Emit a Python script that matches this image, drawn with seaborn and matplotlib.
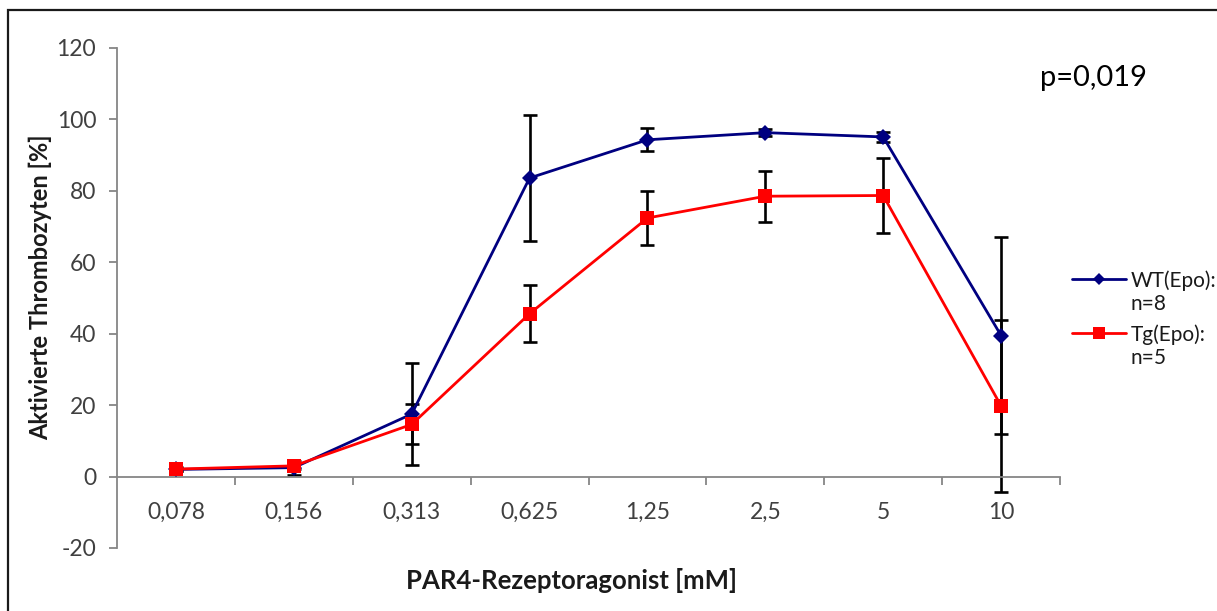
import matplotlib
matplotlib.use("Agg")
import matplotlib.pyplot as plt
from matplotlib.lines import Line2D
from matplotlib.patches import Rectangle
from matplotlib.ticker import FixedLocator, NullFormatter
import numpy as np
import pandas as pd
import seaborn as sns

# Agonist concentrations (mM) shown as categories
concentrations = ["0,078", "0,156", "0,313", "0,625", "1,25", "2,5", "5", "10"]

# Activated platelets [%], mean and error per concentration
wt_mean = [2.0, 2.5, 17.5, 83.6, 94.3, 96.3, 95.1, 39.5]
wt_err = [0.5, 2.0, 14.3, 17.7, 3.2, 1.0, 1.5, 27.7]
tg_mean = [2.1, 3.0, 14.6, 45.6, 72.4, 78.5, 78.7, 19.8]
tg_err = [0.5, 0.8, 5.6, 8.0, 7.6, 7.2, 10.5, 24.0]

groups = ["WT(Epo)", "Tg(Epo)"]
legend_titles = ["WT(Epo):", "Tg(Epo):"]
legend_counts = ["n=8", "n=5"]
p_text = "p=0,019"

sns.set_theme(style="white")
plt.rcParams["font.family"] = ["Lato", "DejaVu Sans"]
plt.rcParams["axes.unicode_minus"] = False

W, H = 1217, 611
pos = np.arange(len(concentrations))
df = pd.DataFrame({
    "pos": np.concatenate([pos, pos]),
    "value": wt_mean + tg_mean,
    "group": [groups[0]] * len(pos) + [groups[1]] * len(pos),
})

fig = plt.figure(figsize=(W / 100, H / 100), dpi=100)
ax = fig.add_axes([117 / W, 1 - 548 / H, (1060 - 117) / W, 500 / H])

navy = "#000080"
red = "#ff0000"
text_col = "#1a1a1a"

# Error bars underneath the lines
for mean, err in [(wt_mean, wt_err), (tg_mean, tg_err)]:
    ax.errorbar(pos, mean, yerr=err, fmt="none", ecolor="black",
                elinewidth=1.9, capsize=4.5, capthick=1.9, zorder=2)

sns.lineplot(data=df, x="pos", y="value", hue="group", style="group",
             palette={groups[0]: navy, groups[1]: red},
             markers={groups[0]: "D", groups[1]: "s"}, dashes=False,
             markeredgewidth=0, linewidth=2.0, ax=ax, zorder=3, legend=False)
for ln in ax.get_lines():
    if matplotlib.colors.to_hex(ln.get_color()) == navy:
        ln.set_markersize(8.5)
    else:
        ln.set_markersize(10.5)

ax.set_xlim(-0.5, len(concentrations) - 0.5)
ax.set_ylim(-20, 120)
ax.set_yticks(np.arange(-20, 121, 20))

ax.xaxis.set_major_locator(FixedLocator(pos))
ax.set_xticklabels(concentrations)
ax.xaxis.set_minor_locator(FixedLocator(np.arange(0.5, len(concentrations), 1.0)))
ax.xaxis.set_minor_formatter(NullFormatter())

for side in ["top", "right"]:
    ax.spines[side].set_visible(False)
spine_col = "#868686"
for side in ["left", "bottom"]:
    ax.spines[side].set_color(spine_col)
    ax.spines[side].set_linewidth(1.3)
ax.spines["bottom"].set_position(("data", 0))

tick_col = "#404040"
ax.tick_params(axis="y", which="major", direction="out", length=6, width=1.3,
               color=spine_col, labelsize=16.5, labelcolor=tick_col, pad=9, left=True)
ax.tick_params(axis="x", which="major", length=0, labelsize=16.5,
               labelcolor=tick_col, pad=18, bottom=True)
ax.tick_params(axis="x", which="minor", direction="out", length=6, width=1.3,
               color=spine_col, bottom=True)

ax.set_xlabel("PAR4-Rezeptoragonist [mM]", fontsize=18.5, fontweight="bold",
              color=text_col)
ax.xaxis.set_label_coords((572 - 117) / 943, (548 - 568) / 500)
ax.set_ylabel("Aktivierte Thrombozyten [%]", fontsize=17, fontweight="bold",
              color=text_col)
ax.yaxis.set_label_coords((52 - 117) / 943, (548 - 287) / 500)

# Legend: group name beside the handle, group size on the line below
handles = [
    Line2D([], [], color=navy, marker="D", markersize=6, markeredgewidth=0, linewidth=2.0),
    Line2D([], [], color=red, marker="s", markersize=9, markeredgewidth=0, linewidth=2.0),
]
leg = fig.legend(handles, legend_titles, loc="upper left",
                 bbox_to_anchor=(1072 / W, 1 - 270 / H), frameon=False,
                 fontsize=15, handlelength=2.6, handletextpad=0.2,
                 labelspacing=1.6, borderaxespad=0, borderpad=0)
for t in leg.get_texts():
    t.set_color(text_col)
fig.canvas.draw()
inv = fig.transFigure.inverted()
for t, count in zip(leg.get_texts(), legend_counts):
    bb = t.get_window_extent()
    x0, y0 = inv.transform((bb.x0, bb.y0))
    fig.text(x0, y0 - 3 / H, count, fontsize=15, color=text_col,
             va="top", ha="left")

fig.text(1040 / W, 1 - 78 / H, p_text, fontsize=21, color="black",
         va="center", ha="left")

# Chart frame
fig.add_artist(Rectangle((8 / W, -0.2), 1.2, 1.2 - 10 / H,
                         transform=fig.transFigure, fill=False,
                         edgecolor=text_col, linewidth=1.6))

fig.savefig("out.png", dpi=100)
